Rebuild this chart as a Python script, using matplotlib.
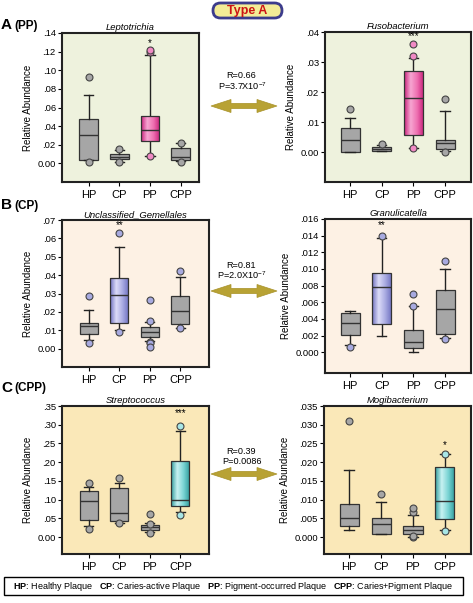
import numpy as np
import matplotlib.pyplot as plt
from matplotlib.colors import LinearSegmentedColormap
from matplotlib.patches import FancyBboxPatch, Polygon, Rectangle

plt.rcParams['font.family'] = ['Liberation Sans', 'DejaVu Sans']
plt.rcParams['mathtext.fontset'] = 'custom'
plt.rcParams['mathtext.rm'] = 'Liberation Sans'
plt.rcParams['mathtext.bf'] = 'Liberation Sans:bold'

groups = ["HP", "CP", "PP", "CPP"]

# box statistics (q1, median, q3, whiskers, outliers)
lep_q1 = [0.004, 0.0043, 0.0244, 0.004]
lep_med = [0.031, 0.0072, 0.0359, 0.0065]
lep_q3 = [0.0477, 0.0097, 0.0513, 0.0165]
lep_lo = [0.004, 0.002, 0.0083, 0.003]
lep_hi = [0.0736, 0.0144, 0.116, 0.0222]
lep_out = [[0.093, 0.001], [0.015, 0.001], [0.120, 0.122, 0.008], [0.0215, 0.002]]

fus_q1 = [0.0, 0.0003, 0.0058, 0.0011]
fus_med = [0.0041, 0.001, 0.018, 0.0031]
fus_q3 = [0.008, 0.0017, 0.0269, 0.0039]
fus_lo = [0.0, 0.0003, 0.0014, 0.0003]
fus_hi = [0.0113, 0.0022, 0.0314, 0.0136]
fus_out = [[0.0143], [0.0026], [0.032, 0.036, 0.0014], [0.0177, 0.0001]]

gem_q1 = [0.0079, 0.014, 0.0065, 0.0136]
gem_med = [0.0122, 0.0293, 0.0093, 0.0203]
gem_q3 = [0.0142, 0.0384, 0.0118, 0.0285]
gem_lo = [0.0047, 0.0104, 0.0043, 0.011]
gem_hi = [0.0208, 0.0553, 0.0147, 0.0391]
gem_out = [[0.0289, 0.0032], [0.0627, 0.0088], [0.015, 0.0267, 0.0038, 0.003, 0.0011], [0.0424, 0.011]]

gra_q1 = [0.0021, 0.0034, 0.0005, 0.0022]
gra_med = [0.0035, 0.0078, 0.0012, 0.0052]
gra_q3 = [0.0047, 0.0095, 0.0027, 0.0075]
gra_lo = [0.0009, 0.002, 0.0, 0.0017]
gra_hi = [0.005, 0.0137, 0.0055, 0.010]
gra_out = [[0.0006], [0.014], [0.0056, 0.007], [0.011, 0.0016]]

str_q1 = [0.046, 0.042, 0.020, 0.083]
str_med = [0.096, 0.065, 0.027, 0.098]
str_q3 = [0.123, 0.132, 0.032, 0.204]
str_lo = [0.029, 0.037, 0.013, 0.067]
str_hi = [0.135, 0.145, 0.038, 0.283]
str_out = [[0.144, 0.022], [0.158, 0.038], [0.036, 0.062, 0.011], [0.296, 0.060]]

mog_q1 = [0.0029, 0.0009, 0.0009, 0.0049]
mog_med = [0.0051, 0.0036, 0.002, 0.0096]
mog_q3 = [0.0089, 0.0052, 0.0029, 0.0187]
mog_lo = [0.002, 0.0009, 0.0, 0.002]
mog_hi = [0.018, 0.0094, 0.006, 0.0221]
mog_out = [[0.031], [0.0116], [0.0067, 0.0078, 0.0, 0.0004], [0.0221, 0.0016]]

corr_r = ["R=0.66", "R=0.81", "R=0.39"]
corr_p = [r"P=3.7X10$^{-7}$", r"P=2.0X10$^{-7}$", "P=0.0086"]

legend_text = (r"$\mathbf{HP}$: Healthy Plaque   $\mathbf{CP}$: Caries-active Plaque   "
               r"$\mathbf{PP}$: Pigment-occurred Plaque   $\mathbf{CPP}$: Caries+Pigment Plaque")

W, H = 473, 603
fig = plt.figure(figsize=(W / 100, H / 100), dpi=100)

# overlay axes in pixel coordinates for the decorations
ov = fig.add_axes([0, 0, 1, 1])
ov.set_xlim(0, W)
ov.set_ylim(H, 0)
ov.axis('off')

def rect(x0, y0, x1, y1):
    return [x0 / W, 1 - y1 / H, (x1 - x0) / W, (y1 - y0) / H]

gray = '#a6a6a6'
grads = {
    'pink': LinearSegmentedColormap.from_list('pk', ['#c8207a', '#f7a6d2', '#ee6fb0', '#c8207a']),
    'blue': LinearSegmentedColormap.from_list('bl', ['#6e70c0', '#dcdcf8', '#a9abe2', '#6e70c0']),
    'teal': LinearSegmentedColormap.from_list('tl', ['#2e9c9c', '#c8f2f2', '#7ad4d4', '#2e9c9c']),
}

def fmt(v, dec):
    s = f"{v:.{dec}f}"
    return s if v == 0 else s.lstrip('0')

def panel(r, q1, med, q3, lo, hi, out, title, ylim, step, nt, dec, bg, xlim,
          hl, gname, hl_flier, other_flier, star, star_y):
    ax = fig.add_axes(r)
    ax.set_facecolor(bg)
    stats = []
    for i in range(4):
        stats.append(dict(q1=q1[i], med=med[i], q3=q3[i], whislo=lo[i], whishi=hi[i],
                          fliers=out[i], label=groups[i]))
    pos = np.arange(1, 5)
    w = 0.6
    bp = ax.bxp(stats, positions=pos, widths=w, capwidths=0.3, patch_artist=True,
                boxprops=dict(facecolor=gray, edgecolor='#333333', linewidth=0.9),
                medianprops=dict(color='#333333', linewidth=1.0, zorder=5),
                whiskerprops=dict(color='#222222', linewidth=1.0),
                capprops=dict(color='#222222', linewidth=1.0),
                flierprops=dict(marker='o', markersize=5, markeredgecolor='#444444',
                                markeredgewidth=0.8))
    for i, fl in enumerate(bp['fliers']):
        fl.set_markerfacecolor(hl_flier if i == hl else other_flier)
        fl.set_zorder(6)
    patch = bp['boxes'][hl]
    patch.set_facecolor('none')
    patch.set_zorder(4)
    grad = np.linspace(0, 1, 200).reshape(1, -1)
    im = ax.imshow(grad, extent=[pos[hl] - w / 2, pos[hl] + w / 2, q1[hl], q3[hl]],
                   aspect='auto', cmap=grads[gname], origin='lower', zorder=3)
    im.set_clip_path(patch)
    ax.text(pos[star[0]], star_y, star[1], ha='center', va='center', fontsize=7)
    ax.set_xlim(*xlim)
    ax.set_ylim(*ylim)
    ticks = [k * step for k in range(nt + 1)]
    ax.set_yticks(ticks)
    ax.set_yticklabels([fmt(t, dec) for t in ticks], fontsize=6.8)
    ax.set_xticks(pos)
    ax.set_xticklabels(groups, fontsize=8)
    ax.tick_params(axis='y', length=3, width=0.8, pad=1.5)
    ax.tick_params(axis='x', length=3, width=0.8, pad=3)
    for s in ax.spines.values():
        s.set_linewidth(1.5)
        s.set_color('#222222')
    ax.set_ylabel('Relative Abundance', fontsize=7, labelpad=3)
    ax.set_title(title, fontsize=6.8, style='italic', pad=2)
    return ax

bgA, bgB, bgC = '#eef2dd', '#fdf1e4', '#fae8b8'
lav = '#a8aae0'

panel(rect(62, 33, 199, 182), lep_q1, lep_med, lep_q3, lep_lo, lep_hi, lep_out,
      'Leptotrichia', (-0.02, 0.14), 0.02, 7, 2, bgA, (0.13, 4.6),
      2, 'pink', '#f08ac4', gray, (2, '*'), 0.129)
panel(rect(325, 32, 471, 182), fus_q1, fus_med, fus_q3, fus_lo, fus_hi, fus_out,
      'Fusobacterium', (-0.01, 0.04), 0.01, 4, 2, bgA, (0.21, 4.82),
      2, 'pink', '#f08ac4', gray, (2, '***'), 0.0387)
panel(rect(62, 220, 209, 367), gem_q1, gem_med, gem_q3, gem_lo, gem_hi, gem_out,
      'Unclassified_Gemellales', (-0.01, 0.07), 0.01, 7, 2, bgB, (0.12, 4.94),
      1, 'blue', lav, lav, (1, '**'), 0.067)
panel(rect(325, 219, 471, 373), gra_q1, gra_med, gra_q3, gra_lo, gra_hi, gra_out,
      'Granulicatella', (-0.0025, 0.016), 0.002, 8, 3, bgB, (0.21, 4.82),
      1, 'blue', lav, lav, (1, '**'), 0.0153)
panel(rect(62, 406, 209, 554), str_q1, str_med, str_q3, str_lo, str_hi, str_out,
      'Streptococcus', (-0.045, 0.35), 0.05, 7, 2, bgC, (0.12, 4.94),
      3, 'teal', '#a8e6e6', gray, (3, '***'), 0.33)
panel(rect(324, 406, 471, 554), mog_q1, mog_med, mog_q3, mog_lo, mog_hi, mog_out,
      'Mogibacterium', (-0.0045, 0.035), 0.005, 7, 3, bgC, (0.21, 4.82),
      3, 'teal', '#a8e6e6', gray, (3, '*'), 0.0245)

# "Type A" badge
ov.add_patch(FancyBboxPatch((213, 3), 69, 15, boxstyle="round,pad=0,rounding_size=7.5",
                            facecolor='#f3ec96', edgecolor='#3c3c8c', linewidth=2))
ov.text(247.5, 10.8, 'Type A', ha='center', va='center', fontsize=9, fontweight='bold',
        color='#cc1414')

# panel letters
for letter, sub, y in [('A', '(PP)', 25), ('B', '(CP)', 205), ('C', '(CPP)', 388)]:
    ov.text(1, y, letter, ha='left', va='center', fontsize=11, fontweight='bold')
    ov.text(14, y + 0.5, sub, ha='left', va='center', fontsize=8.5, fontweight='bold')

# correlation arrows
def darrow(cx, cy, L=66, hl=20, hh=6.5, sh=2.6):
    x0, x1 = cx - L / 2, cx + L / 2
    pts = [(x0, cy), (x0 + hl, cy - hh), (x0 + hl, cy - sh), (x1 - hl, cy - sh),
           (x1 - hl, cy - hh), (x1, cy), (x1 - hl, cy + hh), (x1 - hl, cy + sh),
           (x0 + hl, cy + sh), (x0 + hl, cy + hh)]
    ov.add_patch(Polygon(pts, closed=True, facecolor='#b8a234', edgecolor='#a8922a',
                         linewidth=0.5))

for (ry, py, ay), rt, pt in zip([(76, 86, 106), (265, 275, 291), (452, 462, 474)], corr_r, corr_p):
    ov.text(241, ry, rt, ha='center', va='center', fontsize=6.6)
    ov.text(242, py, pt, ha='center', va='center', fontsize=6.6)
    darrow(244, ay)

# legend box at the bottom
ov.add_patch(Rectangle((4, 577), 459, 18, facecolor='white', edgecolor='black', linewidth=1))
ov.text(233.5, 586.5, legend_text, ha='center', va='center', fontsize=6.5)

fig.savefig('out.png', dpi=100)
